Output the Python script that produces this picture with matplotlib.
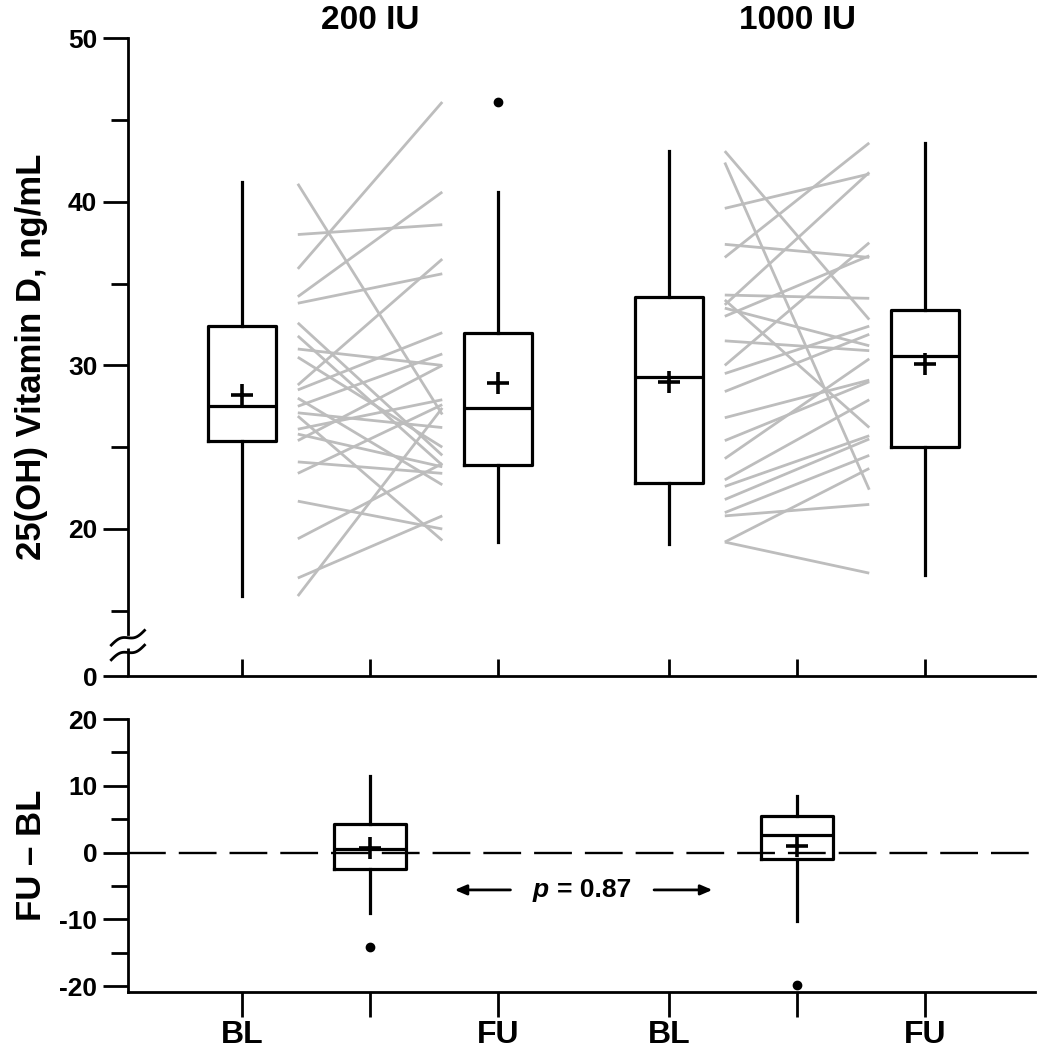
import matplotlib
matplotlib.use('Agg')
import matplotlib.pyplot as plt
import numpy as np

plt.rcParams['font.family'] = ['Liberation Sans', 'DejaVu Sans']
plt.rcParams['font.weight'] = 'bold'
plt.rcParams['axes.unicode_minus'] = False

# x positions: BL, change, FU for each dose group
groups = ['200 IU', '1000 IU']
pos_200 = [1.0, 2.0, 3.0]
pos_1000 = [4.34, 5.34, 6.34]
xtick_labels = ['BL', '', 'FU', 'BL', '', 'FU']

# individual subjects, baseline and follow-up (ng/mL)
bl_200 = [41.1, 38.0, 35.9, 34.2, 33.8, 32.6, 31.8, 31.0, 30.5, 28.8, 28.5, 28.0,
          27.5, 27.1, 26.9, 26.1, 25.8, 25.4, 24.1, 23.4, 21.7, 19.4, 17.0, 15.9]
fu_200 = [27.0, 38.6, 46.1, 40.6, 35.6, 24.5, 23.9, 30.0, 25.0, 36.5, 32.0, 22.7,
          30.7, 26.2, 19.3, 27.9, 23.8, 30.0, 23.4, 27.6, 20.0, 24.0, 20.8, 27.4]
bl_1000 = [43.1, 42.4, 39.6, 37.4, 36.6, 34.3, 34.0, 33.7, 33.5, 33.0, 31.5, 30.0,
           29.5, 28.4, 26.8, 25.4, 24.3, 23.0, 22.6, 21.8, 21.0, 20.8, 19.2, 19.2]
fu_1000 = [32.8, 22.4, 41.7, 36.6, 43.6, 34.1, 26.2, 41.8, 31.2, 36.7, 30.9, 37.5,
           32.4, 31.9, 29.1, 29.0, 30.4, 27.9, 25.7, 25.5, 24.5, 21.5, 23.7, 17.3]

# box summaries: whislo, q1, median, q3, whishi, mean, fliers
bl200_box = [15.9, 25.4, 27.5, 32.4, 41.2, 28.2, []]
fu200_box = [19.2, 23.9, 27.4, 32.0, 40.6, 28.9, [46.1]]
bl1000_box = [19.1, 22.8, 29.3, 34.2, 43.1, 29.0, []]
fu1000_box = [17.2, 25.0, 30.6, 33.4, 43.6, 30.1, []]
diff200_box = [-9.0, -2.5, 0.5, 4.3, 11.5, 0.7, [-14.2]]
diff1000_box = [-10.2, -1.0, 2.7, 5.4, 8.4, 1.0, [-19.8]]
p_text = '= 0.87'


def to_stats(b):
    return dict(whislo=b[0], q1=b[1], med=b[2], q3=b[3], whishi=b[4],
                mean=b[5], fliers=b[6])


def draw_boxes(ax, boxes, positions, width):
    ax.bxp([to_stats(b) for b in boxes], positions=positions, widths=width,
           showcaps=False, showmeans=True,
           boxprops=dict(color='black', linewidth=2.3),
           whiskerprops=dict(color='black', linewidth=2.3),
           medianprops=dict(color='black', linewidth=2.3),
           meanprops=dict(marker='+', markersize=16, markeredgewidth=2.6,
                          markeredgecolor='black'),
           flierprops=dict(marker='o', markersize=6, markerfacecolor='black',
                           markeredgecolor='black'),
           manage_ticks=False, zorder=3)


fig = plt.figure(figsize=(10.4, 10.5), dpi=100)
ax1 = fig.add_axes([0.123, 0.356, 0.872, 0.6076])
ax2 = fig.add_axes([0.123, 0.0552, 0.872, 0.26])

xlim = (0.106, 7.2)
all_x = pos_200 + pos_1000

# ---- top panel ----
half = 0.565
for b, f in zip(bl_200, fu_200):
    ax1.plot([pos_200[1] - half, pos_200[1] + half], [b, f], color='#bdbdbd',
             lw=2, solid_capstyle='butt', zorder=1)
for b, f in zip(bl_1000, fu_1000):
    ax1.plot([pos_1000[1] - half, pos_1000[1] + half], [b, f], color='#bdbdbd',
             lw=2, solid_capstyle='butt', zorder=1)

draw_boxes(ax1, [bl200_box, fu200_box, bl1000_box, fu1000_box],
           [pos_200[0], pos_200[2], pos_1000[0], pos_1000[2]], 0.53)

ax1.set_xlim(*xlim)
ax1.set_ylim(11, 50)
ax1.set_yticks([11, 20, 30, 40, 50])
ax1.set_yticklabels(['0', '20', '30', '40', '50'])
ax1.set_yticks([15, 25, 35, 45], minor=True)
ax1.set_xticks(all_x)
ax1.set_xticklabels([])
ax1.tick_params(axis='x', direction='in', length=12, width=2)
ax1.tick_params(axis='y', which='major', direction='out', length=18, width=2,
                labelsize=19, pad=4)
ax1.tick_params(axis='y', which='minor', direction='out', length=12, width=2)
for s in ['top', 'right']:
    ax1.spines[s].set_visible(False)
for s in ['left', 'bottom']:
    ax1.spines[s].set_linewidth(2)
# axis break on the y spine
ax1.spines['left'].set_bounds(13.6, 50)
ax1.plot([xlim[0], xlim[0]], [11, 12.7], color='black', lw=2, clip_on=False,
         solid_capstyle='butt')
t = np.linspace(-1, 1, 30)
for yc in [13.35, 12.45]:
    xs = xlim[0] + 0.13 * t
    ys = yc + 0.45 * t - 0.18 * np.sin(np.pi * t)
    ax1.plot(xs, ys, color='black', lw=2, clip_on=False)

ax1.set_ylabel('25(OH) Vitamin D, ng/mL', fontsize=25, fontweight='bold')
ax1.yaxis.set_label_coords(-0.088, 0.5)
for name, p in zip(groups, [pos_200[1], pos_1000[1]]):
    ax1.text(p, 1.003, name, transform=ax1.get_xaxis_transform(), ha='center',
             va='bottom', fontsize=24, fontweight='bold')

# ---- bottom panel ----
ax2.axhline(0, color='black', lw=1.7, ls=(0, (16, 5.5)), zorder=1)
draw_boxes(ax2, [diff200_box, diff1000_box], [pos_200[1], pos_1000[1]], 0.57)

ax2.set_xlim(*xlim)
ax2.set_ylim(-20.9, 20)
ax2.set_yticks([-20, -10, 0, 10, 20])
ax2.set_yticks([-15, -5, 5, 15], minor=True)
ax2.set_xticks(all_x)
ax2.set_xticklabels(xtick_labels)
ax2.tick_params(axis='x', direction='out', length=18, width=2, labelsize=23,
                pad=2)
ax2.tick_params(axis='y', which='major', direction='out', length=18, width=2,
                labelsize=19, pad=4)
ax2.tick_params(axis='y', which='minor', direction='out', length=12, width=2)
for s in ['top', 'right']:
    ax2.spines[s].set_visible(False)
for s in ['left', 'bottom']:
    ax2.spines[s].set_linewidth(2)
ax2.set_ylabel('FU \u2013 BL', fontsize=25, fontweight='bold')
ax2.yaxis.set_label_coords(-0.088, 0.5)

# p-value annotation between the groups
y_p = -5.6
ax2.annotate('', xy=(2.64, y_p), xytext=(3.12, y_p),
             arrowprops=dict(arrowstyle='-|>,head_length=0.7,head_width=0.3',
                             color='black', lw=2))
ax2.annotate('', xy=(4.70, y_p), xytext=(4.20, y_p),
             arrowprops=dict(arrowstyle='-|>,head_length=0.7,head_width=0.3',
                             color='black', lw=2))
ax2.text(3.40, y_p, 'p', fontsize=19, fontstyle='italic', fontweight='bold',
         ha='right', va='center')
ax2.text(3.46, y_p, p_text, fontsize=19, fontweight='bold', ha='left',
         va='center')

fig.savefig('out.png', dpi=100)
